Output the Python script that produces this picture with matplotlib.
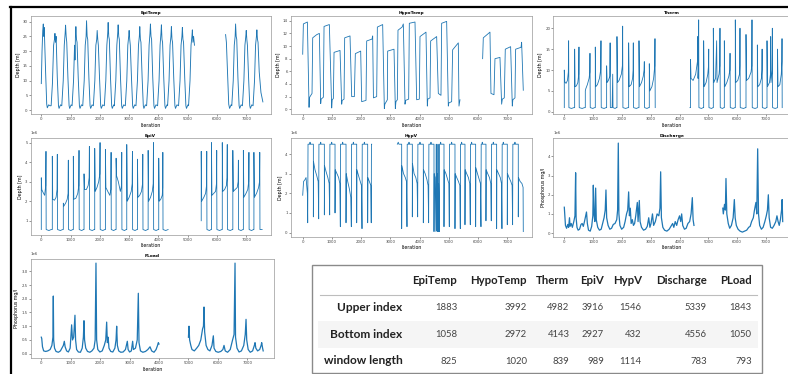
import numpy as np
import matplotlib.pyplot as plt
from matplotlib.patches import Rectangle
from matplotlib.lines import Line2D

nan = np.nan

# ---------------- data: (iteration, value) vertices ----------------
epitemp_pts = [
    (0, 9), (25, 20), (50, 27), (68, 29.2), (85, 25), (100, 28), (115, 23), (150, 12), (185, 2), (205, 0.8), (250, 1.8), (300, 1.5),
    (336, 1.5), (380, 9), (420, 22), (450, 24), (466, 26), (486, 23), (506, 25), (546, 11), (586, 1.5), (606, 0.6), (656, 1.8),
    (699, 1.5), (749, 10), (784, 22), (814, 26), (829, 28.8), (849, 25), (869, 23), (909, 11), (949, 1.5), (969, 0.6), (1019, 1.8),
    (1051, 1.5), (1101, 10), (1136, 22), (1150, 17), (1166, 25), (1181, 28.3), (1201, 24), (1221, 23), (1261, 11), (1301, 1.5), (1321, 0.6), (1371, 1.8),
    (1415, 1.5), (1465, 10), (1500, 22), (1530, 25), (1545, 30.3), (1565, 25), (1585, 24), (1625, 11), (1665, 1.5), (1685, 0.6), (1735, 1.8),
    (1778, 1.5), (1828, 10), (1863, 22), (1893, 24), (1908, 27), (1928, 24), (1948, 22), (1988, 11), (2028, 1.5), (2048, 0.6), (2098, 1.8),
    (2153, 1.5), (2203, 10), (2238, 22), (2268, 26), (2283, 29.7), (2303, 25), (2323, 24), (2363, 11), (2403, 1.5), (2423, 0.6), (2473, 1.8),
    (2494, 1.5), (2544, 10), (2579, 22), (2609, 26), (2624, 28.9), (2644, 25), (2664, 24), (2704, 11), (2744, 1.5), (2764, 0.6), (2814, 1.8),
    (2869, 1.5), (2919, 10), (2954, 22), (2984, 25), (2999, 27), (3019, 24), (3039, 22), (3079, 11), (3119, 1.5), (3139, 0.6), (3189, 1.8),
    (3233, 1.5), (3283, 10), (3318, 22), (3348, 25), (3363, 28.3), (3383, 24), (3403, 23), (3443, 11), (3483, 1.5), (3503, 0.6), (3553, 1.8),
    (3596, 1.5), (3646, 10), (3681, 22), (3711, 26), (3726, 29.2), (3746, 25), (3766, 24), (3806, 11), (3846, 1.5), (3866, 0.6), (3916, 1.8),
    (3971, 1.5), (4021, 10), (4056, 22), (4086, 26), (4101, 28.9), (4121, 24), (4141, 23), (4181, 11), (4221, 1.5), (4241, 0.6), (4291, 1.8),
    (4312, 1.5), (4362, 10), (4397, 22), (4427, 25), (4442, 28.3), (4462, 24), (4482, 23), (4522, 11), (4562, 1.5), (4582, 0.6), (4632, 1.8),
    (4687, 1.5), (4737, 10), (4772, 22), (4802, 25), (4817, 28), (4837, 24), (4857, 23), (4897, 11), (4937, 1.5), (4957, 0.6), (5007, 1.8),
    (5028, 1.5), (5078, 10), (5113, 22), (5143, 25), (5158, 27.2), (5178, 23), (5200, 25), (5230, 22),
    (5231, nan),
    (6293, 25.6), (6320, 23), (6360, 12), (6400, 2), (6430, 0.6), (6480, 1.8),
    (6504, 1.5), (6554, 10), (6589, 22), (6619, 25), (6634, 29.2), (6654, 25), (6674, 24), (6714, 11), (6754, 1.5), (6774, 0.6), (6824, 1.8),
    (6868, 1.5), (6918, 10), (6953, 22), (6983, 25), (6998, 27), (7018, 24), (7038, 22), (7078, 11), (7118, 1.5), (7138, 0.6), (7188, 1.8),
    (7231, 1.5), (7281, 10), (7316, 22), (7346, 25), (7361, 27.2), (7381, 24), (7401, 23), (7441, 13), (7500, 6), (7566, 2.8),
]

hypotemp_pts = [
    (0, 8.7), (23, 13.5), (160, 13.8), (217, 0.3), (228, 1.8), (251, 2.0), (319, 2.5),
    (342, 11.3), (479, 11.8), (570, 12.0), (616, 0.9), (630, 1.6), (707, 1.9),
    (730, 13.1), (912, 13.4), (992, 0.2), (1010, 1.5), (1049, 1.7),
    (1072, 9.0), (1277, 9.3), (1334, 0.8), (1350, 1.4), (1414, 1.6),
    (1436, 11.3), (1619, 11.6), (1676, 2.0), (1767, 2.0),
    (1801, 8.8), (1984, 9.2), (2018, 1.2), (2166, 1.4),
    (2189, 10.8), (2371, 11.1), (2394, 11.6), (2420, 1.8), (2531, 2.0),
    (2554, 13.0), (2736, 13.4), (2793, 0.1), (2810, 0.8), (2896, 1.5),
    (2907, 9.2), (3124, 9.5), (3169, 0.1), (3190, 1.2), (3238, 1.5),
    (3260, 12.5), (3400, 13.0), (3443, 13.5), (3500, 0.8), (3520, 1.4), (3625, 1.6),
    (3648, 13.6), (3842, 13.8), (3899, 1.5), (3990, 1.6),
    (4013, 11.5), (4218, 12.2), (4264, 0.5), (4280, 1.6), (4355, 1.8),
    (4378, 10.8), (4583, 11.5), (4640, 2.5), (4731, 2.2),
    (4754, 13.6), (4925, 13.9), (4982, 0.5), (5000, 1.0), (5096, 1.2),
    (5130, 9.4), (5324, 10.5), (5347, 0.5), (5381, 1.5),
    (5382, nan),
    (6156, 8.0), (6179, 11.3), (6407, 12.2), (6441, 2.5), (6544, 2.3),
    (6578, 8.0), (6749, 8.2), (6806, 0.8), (6830, 1.6), (6897, 1.8),
    (6931, 9.5), (7114, 9.9), (7171, 0.5), (7190, 1.5), (7262, 1.8),
    (7285, 9.5), (7470, 9.8), (7490, 10.6), (7547, 3.0),
]

therm_pts = [
    (0, 1), (0, 10), (15, 7.2), (60, 6.8), (110, 7.5), (140, 9.5), (150, 17), (160, 1), (250, 0.8), (330, 1),
    (359, 1), (359, 15), (372, 6), (420, 6.2), (470, 7), (500, 9), (509, 15.5), (518, 1), (620, 0.8), (700, 1),
    (729, 1), (729, 5), (745, 5.5), (800, 6.5), (860, 8), (885, 9.5), (891, 14), (900, 1), (990, 0.8), (1050, 1),
    (1076, 1), (1076, 15.5), (1090, 6), (1150, 6.5), (1220, 8), (1262, 10), (1273, 17), (1282, 1), (1380, 0.8), (1450, 1),
    (1469, 1), (1469, 11), (1485, 7), (1530, 7.5), (1580, 8.5), (1590, 16.5), (1598, 1), (1660, 1), (1680, 9), (1690, 1), (1760, 0.8), (1810, 1),
    (1828, 1), (1828, 18), (1845, 7), (1900, 7.5), (1980, 9), (2015, 11), (2025, 20.5), (2034, 1), (2130, 0.8), (2210, 1),
    (2233, 1), (2233, 16.5), (2250, 6), (2320, 6.5), (2370, 8), (2388, 10), (2395, 16.5), (2404, 1), (2500, 0.8), (2570, 1),
    (2592, 1), (2592, 17), (2608, 6), (2680, 7), (2740, 8.5), (2770, 10), (2777, 12), (2786, 1), (2870, 0.8), (2930, 1),
    (2950, 1), (2950, 11.5), (2968, 5), (3040, 6), (3100, 8), (3138, 11), (3147, 17.5), (3155, 1),
    (3156, nan),
    (4362, 1), (4380, 1), (4380, 12.5), (4398, 8), (4470, 7.5), (4560, 9), (4620, 12), (4628, 18), (4640, 8), (4655, 10), (4663, 22), (4672, 1), (4760, 0.8), (4820, 1),
    (4836, 1), (4836, 17), (4852, 6), (4920, 7), (4980, 9), (5005, 11), (5012, 15), (5020, 1), (5110, 0.8), (5160, 1),
    (5172, 1), (5172, 20), (5188, 7), (5250, 8), (5287, 17), (5300, 7), (5370, 9), (5395, 11), (5403, 20), (5412, 1), (5490, 0.8), (5540, 1),
    (5554, 1), (5554, 17), (5570, 6), (5640, 7), (5710, 8.5), (5745, 10), (5752, 14), (5760, 1), (5860, 0.8), (5920, 1),
    (5935, 1), (5935, 22), (5950, 7), (6020, 7.5), (6080, 9), (6090, 11), (6097, 20), (6106, 1), (6220, 0.8), (6290, 1),
    (6306, 1), (6306, 18.5), (6322, 7.5), (6400, 8), (6480, 9.5), (6505, 11), (6514, 22), (6523, 1), (6620, 0.8), (6690, 1),
    (6700, 1), (6700, 16), (6716, 6), (6780, 6.5), (6840, 8), (6858, 10), (6865, 15), (6873, 1), (6970, 0.8), (7020, 1),
    (7035, 1), (7035, 17), (7050, 6), (7120, 7), (7155, 9), (7162, 18), (7172, 7), (7210, 10), (7220, 20), (7229, 1), (7320, 0.8), (7390, 1),
    (7400, 1), (7400, 15), (7416, 6), (7480, 6.5), (7530, 9), (7550, 12), (7556, 17.5), (7562, 1),
]

epiv_pts = [  # millions
    (0, 0.55), (0, 3.2), (15, 2.6), (60, 2.45), (115, 2.3), (150, 2.8), (160, 4.55), (166, 0.55), (260, 0.5), (340, 0.55),
    (376, 0.55), (376, 4.3), (390, 2.1), (450, 2.05), (505, 2.2), (538, 2.6), (547, 4.4), (553, 0.55), (650, 0.5), (730, 0.55),
    (752, 0.55), (752, 1.9), (770, 1.75), (830, 1.9), (885, 2.1), (914, 2.4), (923, 4.1), (929, 0.55), (1010, 0.5), (1075, 0.55),
    (1094, 0.55), (1094, 4.3), (1110, 2.1), (1180, 2.15), (1245, 2.4), (1279, 2.8), (1288, 4.6), (1294, 0.55), (1380, 0.5), (1440, 0.55),
    (1459, 0.55), (1459, 3.4), (1475, 2.6), (1540, 2.6), (1600, 2.8), (1633, 3.2), (1642, 4.8), (1648, 0.55), (1740, 0.5), (1805, 0.55),
    (1824, 0.55), (1824, 4.7), (1840, 2.5), (1900, 2.7), (1960, 3.0), (1997, 3.4), (2006, 5.0), (2012, 0.55), (2100, 0.5), (2170, 0.55),
    (2189, 0.55), (2189, 4.65), (2205, 2.7), (2270, 2.5), (2340, 2.3), (2374, 2.6), (2383, 4.5), (2389, 0.55), (2470, 0.5), (2535, 0.55),
    (2554, 0.55), (2554, 4.2), (2570, 3.3), (2630, 3.0), (2700, 2.5), (2738, 2.8), (2747, 4.5), (2753, 0.55), (2840, 0.5), (2900, 0.55),
    (2918, 0.55), (2918, 4.9), (2934, 2.0), (3000, 2.2), (3070, 2.5), (3103, 2.9), (3112, 4.55), (3118, 0.55), (3200, 0.5), (3265, 0.55),
    (3283, 0.55), (3283, 4.15), (3300, 2.2), (3360, 2.3), (3420, 2.5), (3457, 2.9), (3466, 4.4), (3472, 0.55), (3560, 0.5), (3630, 0.55),
    (3648, 0.55), (3648, 4.6), (3665, 2.0), (3730, 2.2), (3790, 2.5), (3821, 2.9), (3830, 5.0), (3836, 0.55), (3920, 0.5), (3990, 0.55),
    (4010, 0.55), (4010, 4.2), (4025, 2.0), (4080, 2.1), (4130, 2.3), (4145, 2.7), (4150, 4.5), (4156, 0.55), (4250, 0.5), (4330, 0.55),
    (4331, nan),
    (5461, 1.0), (5461, 4.55), (5476, 2.0), (5550, 2.2), (5610, 2.4), (5641, 2.8), (5650, 4.55), (5656, 0.55), (5740, 0.5), (5795, 0.55),
    (5810, 0.55), (5810, 5.0), (5826, 2.3), (5890, 2.4), (5950, 2.5), (5981, 2.9), (5990, 4.6), (5996, 0.55), (6090, 0.5), (6165, 0.55),
    (6180, 0.55), (6180, 5.0), (6196, 2.5), (6260, 2.6), (6320, 2.8), (6341, 3.2), (6350, 4.9), (6356, 0.55), (6450, 0.5), (6525, 0.55),
    (6540, 0.55), (6540, 4.6), (6556, 2.5), (6620, 2.6), (6690, 2.7), (6721, 3.0), (6730, 4.1), (6736, 0.55), (6820, 0.5), (6885, 0.55),
    (6900, 0.55), (6900, 4.6), (6916, 2.2), (6990, 2.4), (7050, 2.6), (7081, 3.0), (7090, 4.5), (7096, 0.55), (7180, 0.5), (7245, 0.55),
    (7260, 0.55), (7260, 4.5), (7276, 2.2), (7350, 2.4), (7420, 2.7), (7451, 3.0), (7460, 4.5), (7466, 0.55), (7540, 0.55),
]

hypv_pts = [  # millions
    (0, 1.9), (30, 2.6), (80, 2.7), (114, 2.8), (160, 2.0), (171, 0.5), (182, 4.5), (240, 4.5), (251, 4.6), (262, 4.5), (365, 4.5),
    (365, 0.8), (372, 3.6), (420, 3.2), (480, 2.9), (530, 2.6), (547, 0.7), (555, 4.5), (605, 4.5), (616, 4.6), (627, 4.5), (741, 4.5),
    (741, 0.9), (748, 3.4), (800, 3.1), (860, 2.8), (905, 2.5), (923, 0.9), (931, 4.5), (980, 4.5), (992, 4.6), (1004, 4.5), (1106, 4.5),
    (1106, 1.0), (1113, 3.2), (1170, 3.0), (1230, 2.8), (1270, 2.5), (1288, 0.3), (1296, 4.5), (1356, 4.5), (1368, 4.6), (1380, 4.5), (1482, 4.5),
    (1482, 0.5), (1489, 3.0), (1540, 2.6), (1600, 2.2), (1645, 1.8), (1664, 0.3), (1672, 4.5), (1721, 4.5), (1733, 4.6), (1745, 4.5), (1847, 4.5),
    (1847, 0.5), (1854, 3.2), (1910, 2.9), (1970, 2.6), (2010, 2.4), (2029, 0.2), (2037, 4.5), (2097, 4.5), (2109, 4.6), (2121, 4.5), (2223, 4.5),
    (2223, 0.5), (2230, 2.8), (2280, 2.6), (2330, 2.4), (2345, 0.5), (2352, 4.5), (2360, 4.5),
    (2361, nan),
    (3238, 4.5), (3270, 4.6), (3290, 4.5), (3386, 4.5),
    (3386, 0.2), (3393, 3.4), (3450, 3.0), (3510, 2.8), (3550, 2.6), (3568, 0.3), (3576, 4.5), (3625, 4.5), (3637, 4.6), (3649, 4.5), (3751, 4.5),
    (3751, 0.8), (3758, 3.5), (3810, 3.0), (3870, 2.8), (3915, 2.5), (3933, 0.8), (3941, 4.5), (4001, 4.5), (4013, 4.6), (4025, 4.5), (4127, 4.5),
    (4127, 0.5), (4134, 3.2), (4190, 3.0), (4250, 2.7), (4290, 2.4), (4309, 0.5), (4317, 4.5), (4377, 4.5), (4389, 4.6), (4401, 4.5), (4492, 4.5),
    (4492, 0.05), (4499, 3.0), (4530, 2.8), (4560, 0.05), (4570, 4.5), (4580, 0.1), (4590, 3.0), (4610, 2.6), (4620, 0.05), (4630, 4.5),
    (4640, 0.05), (4650, 2.5), (4674, 0.05), (4682, 4.5), (4708, 4.5), (4720, 4.6), (4732, 4.5), (4834, 4.5),
    (4834, 0.3), (4841, 3.2), (4900, 3.0), (4960, 2.7), (5000, 2.5), (5016, 0.3), (5024, 4.5), (5084, 4.5), (5096, 4.6), (5108, 4.5), (5210, 4.5),
    (5210, 0.2), (5217, 3.0), (5270, 2.8), (5330, 2.6), (5375, 2.4), (5392, 0.2), (5400, 4.5), (5426, 4.5), (5438, 4.6), (5450, 4.5), (5552, 4.5),
    (5552, 0.4), (5559, 3.2), (5610, 3.0), (5670, 2.8), (5715, 2.5), (5734, 0.4), (5742, 4.5), (5768, 4.5), (5780, 4.6), (5792, 4.5), (5917, 4.5),
    (5917, 0.3), (5924, 3.3), (5980, 3.0), (6040, 2.7), (6080, 2.5), (6099, 0.3), (6107, 4.5), (6132, 4.5), (6144, 4.6), (6156, 4.5), (6270, 4.5),
    (6270, 0.6), (6277, 3.2), (6330, 3.0), (6390, 2.8), (6435, 2.5), (6452, 0.6), (6460, 4.5), (6509, 4.5), (6521, 4.6), (6533, 4.5), (6635, 4.5),
    (6635, 0.2), (6642, 3.2), (6700, 3.0), (6760, 2.8), (6800, 2.5), (6817, 0.2), (6825, 4.5), (6851, 4.5), (6863, 4.6), (6875, 4.5), (7000, 4.5),
    (7000, 0.4), (7007, 3.0), (7060, 2.8), (7120, 2.6), (7165, 2.4), (7182, 0.4), (7190, 4.5), (7250, 4.5), (7262, 4.6), (7274, 4.5), (7376, 4.5),
    (7376, 0.8), (7383, 2.8), (7440, 2.6), (7500, 2.5), (7540, 2.3), (7547, 0.05),
]

discharge_pts = [  # millions
    (0, 1.35), (20, 0.9), (40, 0.4), (80, 0.25), (120, 0.45), (150, 0.3), (180, 0.8), (200, 0.35), (240, 0.5), (280, 0.3),
    (330, 0.6), (370, 0.9), (393, 3.15), (410, 0.8), (440, 0.3), (480, 0.15), (530, 0.2), (580, 0.45), (620, 0.5), (660, 0.35),
    (700, 0.6), (740, 0.9), (770, 1.1), (800, 0.5), (840, 0.15), (900, 0.1), (950, 0.35), (990, 0.9), (1007, 2.5), (1030, 1.0),
    (1060, 0.6), (1088, 2.35), (1110, 0.7), (1160, 0.3), (1220, 0.15), (1280, 0.2), (1330, 0.5), (1380, 0.8), (1420, 1.2), (1446, 2.25),
    (1470, 0.8), (1520, 0.4), (1580, 0.2), (1640, 0.25), (1700, 0.45), (1760, 0.5), (1820, 0.7), (1850, 1.2), (1874, 4.7), (1895, 1.0),
    (1930, 0.4), (1990, 0.2), (2060, 0.3), (2110, 0.6), (2160, 1.0), (2200, 1.2), (2233, 2.15), (2260, 0.9), (2290, 1.3), (2320, 0.5),
    (2360, 0.7), (2400, 0.4), (2440, 0.5), (2480, 0.9), (2534, 1.6), (2560, 0.6), (2603, 1.7), (2630, 0.6), (2680, 0.3), (2750, 0.15),
    (2820, 0.2), (2880, 0.35), (2930, 0.8), (2970, 0.3), (3010, 0.5), (3060, 1.0), (3100, 0.4), (3160, 0.6), (3220, 1.0), (3280, 0.9),
    (3320, 1.3), (3344, 3.2), (3370, 0.8), (3420, 0.3), (3480, 0.15), (3560, 0.1), (3640, 0.2), (3700, 0.35), (3760, 0.5), (3800, 0.3),
    (3850, 0.6), (3900, 0.4), (3950, 0.7), (4000, 0.9), (4040, 0.6), (4073, 1.0), (4110, 0.4), (4170, 0.2), (4230, 0.25), (4290, 0.5),
    (4350, 0.6), (4400, 1.0), (4443, 1.85), (4470, 0.7), (4500, 0.4),
    (4501, nan),
    (5500, 1.3), (5519, 1.0), (5560, 1.5), (5590, 1.2), (5611, 2.85), (5640, 1.0), (5690, 0.5), (5740, 0.25), (5800, 0.4), (5860, 0.8),
    (5901, 1.75), (5930, 0.8), (5970, 0.4), (6030, 0.2), (6100, 0.1), (6180, 0.05), (6260, 0.1), (6330, 0.15), (6400, 0.3), (6450, 0.35),
    (6500, 0.6), (6560, 0.8), (6600, 1.2), (6650, 1.6), (6680, 1.0), (6711, 4.4), (6740, 1.0), (6780, 0.4), (6840, 0.2), (6900, 0.3),
    (6960, 0.6), (7010, 0.9), (7050, 1.2), (7081, 2.0), (7110, 0.8), (7160, 0.3), (7220, 0.25), (7280, 0.4), (7340, 0.6), (7380, 0.9),
    (7420, 0.6), (7460, 0.4), (7500, 0.7), (7540, 1.2), (7560, 1.75), (7580, 0.6),
]

pload_pts = [  # millions
    (0, 0.6), (15, 0.55), (40, 0.25), (80, 0.1), (150, 0.08), (220, 0.1), (300, 0.15), (360, 0.3), (395, 0.6), (408, 2.1),
    (420, 0.5), (450, 0.2), (500, 0.08), (580, 0.05), (650, 0.1), (700, 0.2), (750, 0.3), (782, 0.45), (810, 0.25), (860, 0.1),
    (920, 0.06), (980, 0.2), (1010, 0.7), (1031, 1.05), (1060, 0.5), (1100, 0.6), (1144, 1.4), (1165, 0.5), (1200, 0.15), (1260, 0.06),
    (1330, 0.05), (1390, 0.2), (1430, 0.6), (1450, 1.2), (1470, 0.5), (1510, 0.2), (1570, 0.08), (1650, 0.05), (1720, 0.1), (1790, 0.2),
    (1830, 0.5), (1858, 3.3), (1880, 0.5), (1920, 0.15), (1990, 0.06), (2070, 0.1), (2140, 0.3), (2190, 0.5), (2221, 1.15), (2245, 0.4),
    (2270, 0.6), (2300, 0.2), (2360, 0.08), (2430, 0.06), (2500, 0.2), (2540, 0.5), (2561, 1.0), (2585, 0.3), (2630, 0.1), (2700, 0.05),
    (2780, 0.06), (2860, 0.15), (2923, 0.45), (2950, 0.15), (3000, 0.06), (3060, 0.1), (3104, 0.45), (3130, 0.15), (3200, 0.2), (3260, 0.5),
    (3297, 2.2), (3320, 0.4), (3370, 0.1), (3450, 0.05), (3540, 0.08), (3620, 0.15), (3694, 0.25), (3750, 0.1), (3830, 0.05), (3900, 0.15),
    (3950, 0.3), (3977, 0.4), (4000, 0.35),
    (4001, nan),
    (5000, 0.6), (5019, 1.0), (5040, 0.5), (5080, 0.3), (5120, 0.15), (5200, 0.1), (5280, 0.2), (5350, 0.3), (5420, 0.5), (5480, 0.9),
    (5510, 1.0), (5529, 1.7), (5550, 0.8), (5600, 0.3), (5660, 0.15), (5730, 0.1), (5800, 0.3), (5846, 0.65), (5870, 0.2), (5930, 0.08),
    (6010, 0.05), (6100, 0.08), (6170, 0.15), (6209, 0.3), (6250, 0.1), (6330, 0.05), (6420, 0.15), (6500, 0.5), (6550, 0.7), (6583, 3.3),
    (6600, 0.6), (6650, 0.2), (6720, 0.06), (6800, 0.1), (6880, 0.3), (6930, 0.7), (6957, 1.25), (6980, 0.5), (7030, 0.15), (7100, 0.05),
    (7180, 0.1), (7240, 0.3), (7263, 0.4), (7290, 0.2), (7350, 0.1), (7420, 0.15), (7470, 0.3), (7489, 0.4), (7520, 0.2), (7540, 0.1),
]

table_cols = ["EpiTemp", "HypoTemp", "Therm", "EpiV", "HypV", "Discharge", "PLoad"]
table_rows = ["Upper index", "Bottom index", "window length"]
upper_index = [1883, 3992, 4982, 3916, 1546, 5339, 1843]
bottom_index = [1058, 2972, 4143, 2927, 432, 4556, 1050]
window_length = [825, 1020, 839, 989, 1114, 783, 793]

# ---------------- figure ----------------
W, H = 788, 374
fig = plt.figure(figsize=(W / 100, H / 100), dpi=100)
fig.patch.set_facecolor("white")


def ax_at(x0, y0, x1, y1):
    return fig.add_axes([x0 / W, 1 - y1 / H, (x1 - x0) / W, (y1 - y0) / H])


LINE = "#1f77b4"
TICKFS = 2.8
LABFS = 3.4
TITFS = 3.2


def style(ax, title, ylabel, xlim, ylim, yticks):
    ax.set_title(title, fontsize=TITFS, fontweight="bold", pad=1.2)
    ax.set_xlabel("Iteration", fontsize=LABFS, labelpad=1)
    ax.set_ylabel(ylabel, fontsize=LABFS, labelpad=1.5)
    ax.set_xlim(*xlim)
    ax.set_ylim(*ylim)
    ax.set_xticks([0, 1000, 2000, 3000, 4000, 5000, 6000, 7000])
    ax.set_yticks(yticks)
    ax.tick_params(labelsize=TICKFS, length=1.2, width=0.4, pad=1, colors="#444")
    for s in ax.spines.values():
        s.set_linewidth(0.5)
        s.set_color("#999")
    ax.yaxis.get_offset_text().set_fontsize(TICKFS)


panels = [
    # (points, title, ylabel, box in px, ylim, yticks, scale, px of x=0, px per 7000, line width)
    (epitemp_pts, "EpiTemp", "Depth [m]", (30.7, 15.7, 270.5, 114.3), (-1.4, 32.0), [0, 5, 10, 15, 20, 25, 30], 1, 41.3, 205.0, 0.65),
    (hypotemp_pts, "HypoTemp", "Depth [m]", (290.7, 15.7, 531.7, 114.3), (-0.8, 14.8), [0, 2, 4, 6, 8, 10, 12, 14], 1, 302.7, 204.6, 0.6),
    (therm_pts, "Therm", "Depth [m]", (553.3, 15.7, 790.0, 114.3), (-0.6, 23.0), [0, 5, 10, 15, 20], 1, 564.3, 201.7, 0.6),
    (epiv_pts, "EpiV", "Depth [m]", (30.7, 138.3, 270.5, 235.0), (0.27e6, 5.22e6), [1e6, 2e6, 3e6, 4e6, 5e6], 1e6, 41.3, 205.0, 0.6),
    (hypv_pts, "HypV", "Depth [m]", (290.7, 138.3, 531.7, 236.5), (-0.2e6, 4.8e6), [0, 1e6, 2e6, 3e6, 4e6], 1e6, 302.7, 204.6, 0.6),
    (discharge_pts, "Discharge", "Phosphorus mg/l", (553.3, 138.3, 790.0, 236.5), (-0.18e6, 4.95e6), [0, 1e6, 2e6, 3e6, 4e6], 1e6, 564.3, 201.7, 0.9),
    (pload_pts, "PLoad", "Phosphorus mg/l", (30.7, 259.0, 274.0, 358.3), (-0.17e6, 3.45e6), [0, 0.5e6, 1e6, 1.5e6, 2e6, 2.5e6, 3e6], 1e6, 41.3, 206.0, 0.9),
]

for pts, title, ylab, box, ylim, yt, sc, zero_px, span_px, lw in panels:
    ax = ax_at(*box)
    xs = np.array([p[0] for p in pts], float)
    ys = np.array([p[1] for p in pts], float) * sc
    ax.plot(xs, ys, color=LINE, lw=lw)
    ppu = span_px / 7000.0
    xlim = ((box[0] - zero_px) / ppu, (box[2] - zero_px) / ppu)
    style(ax, title, ylab, xlim, ylim, yt)


# ---------------- table ----------------
def fx(px):
    return px / W


def fy(py):
    return 1 - py / H


fig.patches.append(Rectangle((fx(311.7), fy(373.3)), fx(761.7) - fx(311.7), fy(265) - fy(373.3),
                             transform=fig.transFigure, facecolor="white", edgecolor="#8a8a8a",
                             lw=1.0, zorder=1))
fig.patches.append(Rectangle((fx(318), fy(348.3)), fx(758) - fx(318), fy(321) - fy(348.3),
                             transform=fig.transFigure, facecolor="#f5f5f5", edgecolor="none",
                             zorder=1.1))
fig.lines.append(Line2D([fx(320), fx(757.3)], [fy(295), fy(295)], transform=fig.transFigure,
                        color="#bdbdbd", lw=0.8, zorder=1.2))

TFONT = "Lato"
col_right = [457, 527, 569.5, 604, 641.7, 706.7, 751.7]
row_y = [307.7, 334.3, 361.0]
for c, r in zip(table_cols, col_right):
    fig.text(fx(r), fy(281.0), c, ha="right", va="center", fontsize=8.2, fontweight="bold",
             family=TFONT, color="#222")
for lab, y, vals in zip(table_rows, row_y, [upper_index, bottom_index, window_length]):
    fig.text(fx(402.7), fy(y), lab, ha="right", va="center", fontsize=8.6, fontweight="bold",
             family=TFONT, color="#222")
    for v, r in zip(vals, col_right):
        fig.text(fx(r), fy(y), str(v), ha="right", va="center", fontsize=6.8,
                 family=TFONT, color="#444")

# ---------------- outer black frame of the screenshot ----------------
fig.lines.append(Line2D([fx(10), fx(788)], [fy(7), fy(7)], transform=fig.transFigure,
                        color="black", lw=1.6))
fig.lines.append(Line2D([fx(11), fx(11)], [fy(7), fy(374)], transform=fig.transFigure,
                        color="black", lw=1.6))

fig.savefig("out.png", dpi=100, facecolor="white")
